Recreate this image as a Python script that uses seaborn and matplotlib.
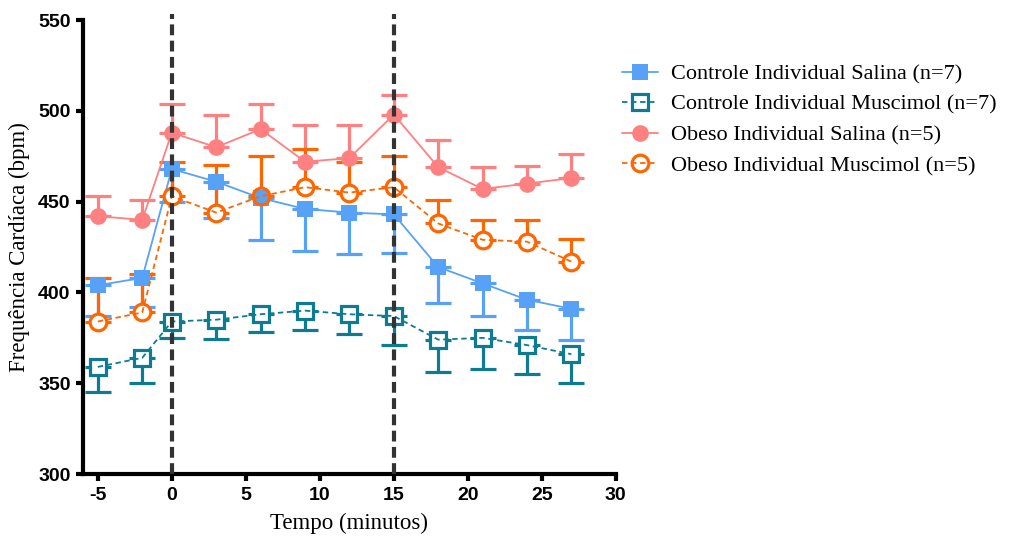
import matplotlib
matplotlib.use("Agg")
import matplotlib.pyplot as plt
import seaborn as sns
import pandas as pd

# Time points (minutes) and group means / SEM
time = [-5, -2, 0, 3, 6, 9, 12, 15, 18, 21, 24, 27]

ctrl_sal = [404, 408, 468, 461, 452, 446, 444, 443, 414, 405, 396, 391]
ctrl_sal_sem = [17, 16, 18, 20, 23, 23, 23, 21.5, 20, 18, 16.5, 17]

ctrl_mus = [359, 364, 384, 385, 388, 390, 388, 387, 374, 375, 371, 366]
ctrl_mus_sem = [14, 14, 9, 10.5, 10, 10.5, 11, 16, 18, 17, 16, 16]

ob_sal = [442, 440, 488, 480, 490, 472, 474, 498, 469, 457, 460, 463]
ob_sal_sem = [11, 11, 16, 18, 14, 20, 18, 11, 15, 12, 9.5, 13]

ob_mus = [384, 389, 453, 444, 453, 458, 455, 458, 438, 429, 428, 417]
ob_mus_sem = [24, 21, 19, 26, 22, 21, 17, 17, 13, 11, 12, 12.5]

labels = [
    "Controle Individual Salina (n=7)",
    "Controle Individual Muscimol (n=7)",
    "Obeso Individual Salina (n=5)",
    "Obeso Individual Muscimol (n=5)",
]
event_times = [0, 15]
x_ticks = [-5, 0, 5, 10, 15, 20, 25, 30]
y_ticks = [300, 350, 400, 450, 500, 550]

sns.set_style("ticks")
plt.rcParams["font.family"] = ["Liberation Serif", "DejaVu Serif"]
plt.rcParams["axes.edgecolor"] = "black"
plt.rcParams["xtick.color"] = "black"
plt.rcParams["ytick.color"] = "black"
plt.rcParams["text.color"] = "black"
plt.rcParams["axes.labelcolor"] = "black"

fig = plt.figure(figsize=(10.09, 5.41), dpi=100)
ax = fig.add_axes([0.0823, 0.1238, 0.528, 0.839])

series = [
    # values, sem, colour, marker, filled, dashed, error direction
    (ctrl_sal, ctrl_sal_sem, "#57A2F7", "s", True, False, "down"),
    (ctrl_mus, ctrl_mus_sem, "#0E7B90", "s", False, True, "down"),
    (ob_sal, ob_sal_sem, "#FF8080", "o", True, False, "up"),
    (ob_mus, ob_mus_sem, "#FF6600", "o", False, True, "up"),
]

for (vals, sem, col, mk, filled, dashed, direction), lab in zip(series, labels):
    df = pd.DataFrame({"t": time, "v": vals})
    zero = [0] * len(sem)
    yerr = [sem, zero] if direction == "down" else [zero, sem]
    ax.errorbar(time, vals, yerr=yerr, fmt="none", ecolor=col,
                elinewidth=2.3, capsize=9.5, capthick=2.3, zorder=1)
    if not filled:
        # white backing so the error bar does not show inside hollow markers
        ax.plot(time, vals, linestyle="none", marker=mk, markersize=11,
                markerfacecolor="white", markeredgecolor="none", zorder=1.5)
    sns.lineplot(
        data=df, x="t", y="v", ax=ax, color=col, label=lab,
        marker=mk, markersize=11 if mk == "s" else 12,
        markerfacecolor=col if filled else "none",
        markeredgecolor=col, markeredgewidth=0 if filled else 2.3,
        linewidth=1.3, linestyle=(0, (3, 2)) if dashed else "-",
        zorder=3,
    )

for t in event_times:
    ax.axvline(t, ymin=0, ymax=1.013, clip_on=False, color="#333333",
               linewidth=3, linestyle=(0, (2.6, 1.3)), zorder=5)

ax.set_xlim(-6, 30)
ax.set_ylim(300, 550)
ax.set_xticks(x_ticks)
ax.set_yticks(y_ticks)
ax.set_xticklabels([str(v) for v in x_ticks])
ax.set_yticklabels([str(v) for v in y_ticks])

for lbl in ax.get_xticklabels() + ax.get_yticklabels():
    lbl.set_fontfamily("Liberation Sans")
    lbl.set_fontweight("bold")
    lbl.set_fontsize(14)

sns.despine(ax=ax)
for side in ["left", "bottom"]:
    ax.spines[side].set_linewidth(3)
ax.tick_params(axis="both", length=5, width=3, pad=4)

ax.set_xlabel("Tempo (minutos)", fontsize=16.5, labelpad=7)
ax.set_ylabel("Frequência Cardíaca (bpm)", fontsize=16.5, labelpad=6)

ax.get_legend().remove()
handles, leg_labels = ax.get_legend_handles_labels()
fig.legend(handles, leg_labels, loc="upper left", bbox_to_anchor=(0.597, 0.919),
           frameon=False, fontsize=16, handlelength=1.6, handletextpad=0.6,
           labelspacing=0.45)

fig.savefig("out.png", dpi=100)
